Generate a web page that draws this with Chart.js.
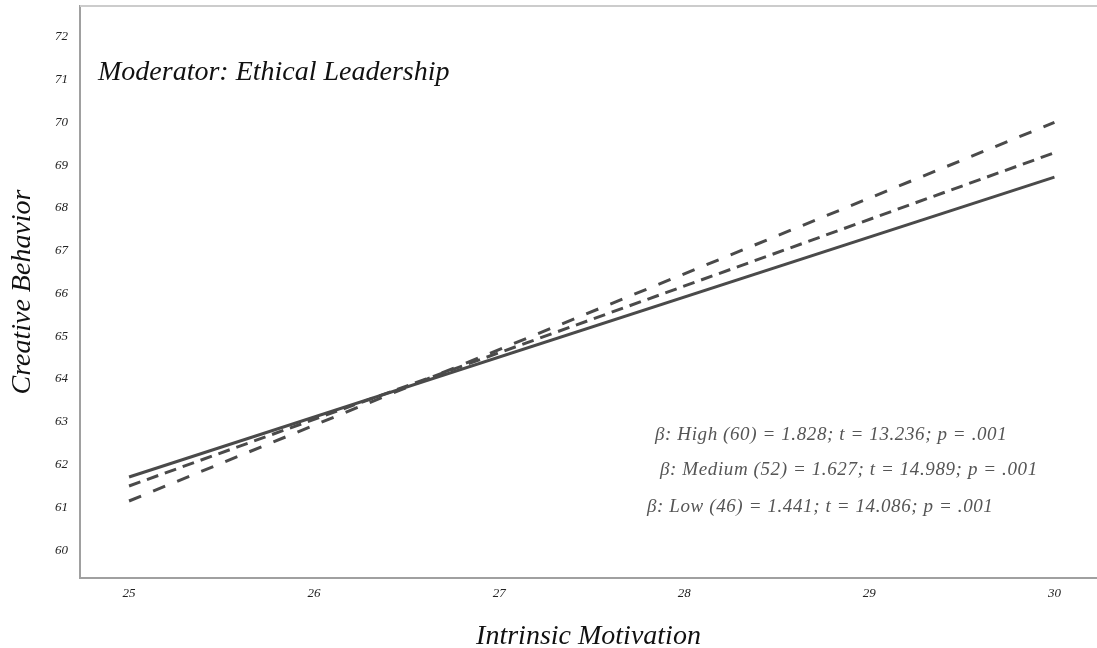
<!DOCTYPE html>
<html>
<head>
<meta charset="utf-8">
<script src="https://cdn.jsdelivr.net/npm/chart.js@4/dist/chart.umd.min.js"></script>
<style>
  html, body { margin: 0; padding: 0; background: #fff; }
  #wrap { width: 1097px; height: 648px; position: relative; }
</style>
</head>
<body>
<div id="wrap"><canvas id="chart" width="1097" height="648"></canvas></div>
<script>
// Intrinsic Motivation (x) et Creative Behavior (y)
const xValues = [25, 30];
const highValues = [61.15, 70.0];
const mediumValues = [61.5, 69.29];
const lowValues = [61.71, 68.72];
const xTicks = [25, 26, 27, 28, 29, 30];
const yTicks = [60, 61, 62, 63, 64, 65, 66, 67, 68, 69, 70, 71, 72];

const titleText = "Moderator: Ethical Leadership";
const statLines = [
    "\u03B2: High (60) = 1.828; t = 13.236; p = .001",
    "\u03B2: Medium (52) = 1.627; t = 14.989; p = .001",
    "\u03B2: Low (46) = 1.441; t = 14.086; p = .001"
];

const serif = "'Liberation Serif', 'DejaVu Serif', serif";
const lineColor = '#4a4a4a';

function toPoints(values) {
    return xValues.map((x, i) => ({ x: x, y: values[i] }));
}

// Texte du titre, ligne du haut et statistiques
const extrasPlugin = {
    id: 'extras',
    afterDraw(chart) {
        const ctx = chart.ctx;
        const area = chart.chartArea;
        ctx.save();
        ctx.strokeStyle = '#cccccc';
        ctx.lineWidth = 2;
        ctx.beginPath();
        ctx.moveTo(area.left, area.top);
        ctx.lineTo(area.right, area.top);
        ctx.stroke();

        ctx.fillStyle = '#111';
        ctx.font = "italic 28px " + serif;
        ctx.textBaseline = 'alphabetic';
        ctx.fillText(titleText, 98, 80);

        ctx.fillStyle = '#555';
        ctx.font = "italic 19px " + serif;
        ctx.letterSpacing = '0.6px';
        ctx.textBaseline = 'middle';
        const xs = [655, 660, 647];
        const ys = [435, 470, 507];
        statLines.forEach((t, i) => ctx.fillText(t, xs[i], ys[i]));
        ctx.restore();
    }
};

new Chart(document.getElementById('chart'), {
    type: 'line',
    data: {
        datasets: [
            { label: 'High', data: toPoints(highValues), borderColor: lineColor, borderWidth: 3, borderDash: [13, 13], pointRadius: 0, fill: false },
            { label: 'Medium', data: toPoints(mediumValues), borderColor: lineColor, borderWidth: 3, borderDash: [12, 7], pointRadius: 0, fill: false },
            { label: 'Low', data: toPoints(lowValues), borderColor: lineColor, borderWidth: 3, pointRadius: 0, fill: false }
        ]
    },
    options: {
        responsive: false,
        animation: false,
        layout: { padding: { top: 6, right: 0, left: 0, bottom: 0 } },
        plugins: {
            legend: { display: false },
            tooltip: { enabled: false }
        },
        scales: {
            x: {
                type: 'linear',
                min: 24.735,
                max: 30.23,
                afterBuildTicks: axis => { axis.ticks = xTicks.map(v => ({ value: v })); },
                afterFit: axis => { axis.height = 70; axis.paddingLeft = 0; axis.paddingRight = 0; },
                grid: { display: false, drawTicks: false },
                border: { display: true, color: '#a0a0a0', width: 2 },
                ticks: { color: '#222', padding: 8, font: { family: serif, style: 'italic', size: 13 } },
                title: { display: true, text: 'Intrinsic Motivation', color: '#111', padding: { top: 25, bottom: -5 }, font: { family: serif, style: 'italic', size: 28 } }
            },
            y: {
                type: 'linear',
                min: 59.35,
                max: 72.72,
                afterBuildTicks: axis => { axis.ticks = yTicks.map(v => ({ value: v })); },
                afterFit: axis => { axis.width = 80; axis.paddingTop = 0; axis.paddingBottom = 0; },
                grid: { display: false, drawTicks: false },
                border: { display: true, color: '#a0a0a0', width: 2 },
                ticks: { color: '#222', padding: 12, font: { family: serif, style: 'italic', size: 13 } },
                title: { display: true, text: 'Creative Behavior', color: '#111', padding: { top: 6, bottom: 4 }, font: { family: serif, style: 'italic', size: 28 } }
            }
        }
    },
    plugins: [extrasPlugin]
});
</script>
</body>
</html>
